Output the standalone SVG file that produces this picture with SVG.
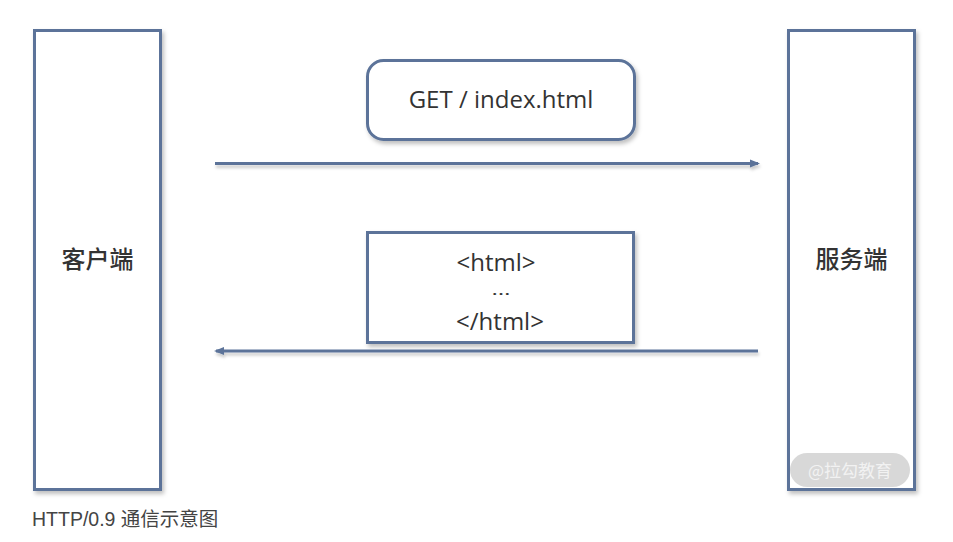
<svg xmlns="http://www.w3.org/2000/svg" width="953" height="542" viewBox="0 0 953 542">
<style>
.box{fill:#ffffff;stroke:#5b7399;stroke-width:3;}
.lbl{font-family:"Noto Sans CJK SC","Noto Sans",sans-serif;font-size:24px;fill:#333333;text-anchor:middle;font-weight:500;}
.code{font-family:"Open Sans","Noto Sans",sans-serif;font-size:24px;fill:#333333;text-anchor:middle;}
.conn{stroke:#5b7399;stroke-width:3;fill:none;}
.cap{font-family:"Liberation Sans","Noto Sans CJK SC",sans-serif;font-size:19.5px;fill:#444444;}
</style>
<defs>
<filter id="sh" x="-10%" y="-10%" width="130%" height="130%">
<feDropShadow dx="2" dy="3" stdDeviation="2" flood-color="#000000" flood-opacity="0.25"/>
</filter>
<filter id="shl" filterUnits="userSpaceOnUse" x="0" y="0" width="953" height="542">
<feDropShadow dx="1" dy="3" stdDeviation="1.5" flood-color="#000000" flood-opacity="0.2"/>
</filter>
<marker id="ah" markerWidth="10" markerHeight="10" refX="8" refY="5" orient="auto" markerUnits="userSpaceOnUse">
<path d="M0,1 L10,5 L0,9 Z" fill="#5b7399"/>
</marker>
</defs>
<rect width="953" height="542" fill="#ffffff"/>
<g id="client">
<rect class="box" x="34.5" y="30.5" width="126" height="459" filter="url(#sh)"/>
<text class="lbl" x="97.5" y="268">客户端</text>
</g>
<g id="server">
<rect class="box" x="788.5" y="30.5" width="126" height="459" filter="url(#sh)"/>
<text class="lbl" x="851.5" y="268">服务端</text>
</g>
<g id="request">
<rect class="box" x="367.5" y="60.5" width="267" height="79" rx="16" filter="url(#sh)"/>
<text class="code" x="501" y="108">GET / index.html</text>
</g>
<g id="response">
<rect class="box" x="367.5" y="232.5" width="266" height="110" filter="url(#sh)"/>
<text class="code" x="496" y="271">&lt;html&gt;</text>
<text class="code" x="501" y="295" style="font-size:17px" textLength="19" lengthAdjust="spacingAndGlyphs">…</text>
<text class="code" x="500" y="330">&lt;/html&gt;</text>
</g>
<g id="connectors" filter="url(#shl)">
<line class="conn" x1="215" y1="163.5" x2="758" y2="163.5" marker-end="url(#ah)"/>
<line class="conn" x1="758" y1="351" x2="216" y2="351" marker-end="url(#ah)"/>
</g>
<g id="watermark">
<rect x="790" y="453" width="120" height="34" rx="17" fill="#d4d4d4" opacity="0.9"/>
<text x="850" y="477" font-family="Noto Sans CJK SC,sans-serif" font-size="17" fill="#f2f2f2" text-anchor="middle">@拉勾教育</text>
</g>
<text class="cap" x="32" y="526">HTTP/0.9 通信示意图</text>
</svg>
